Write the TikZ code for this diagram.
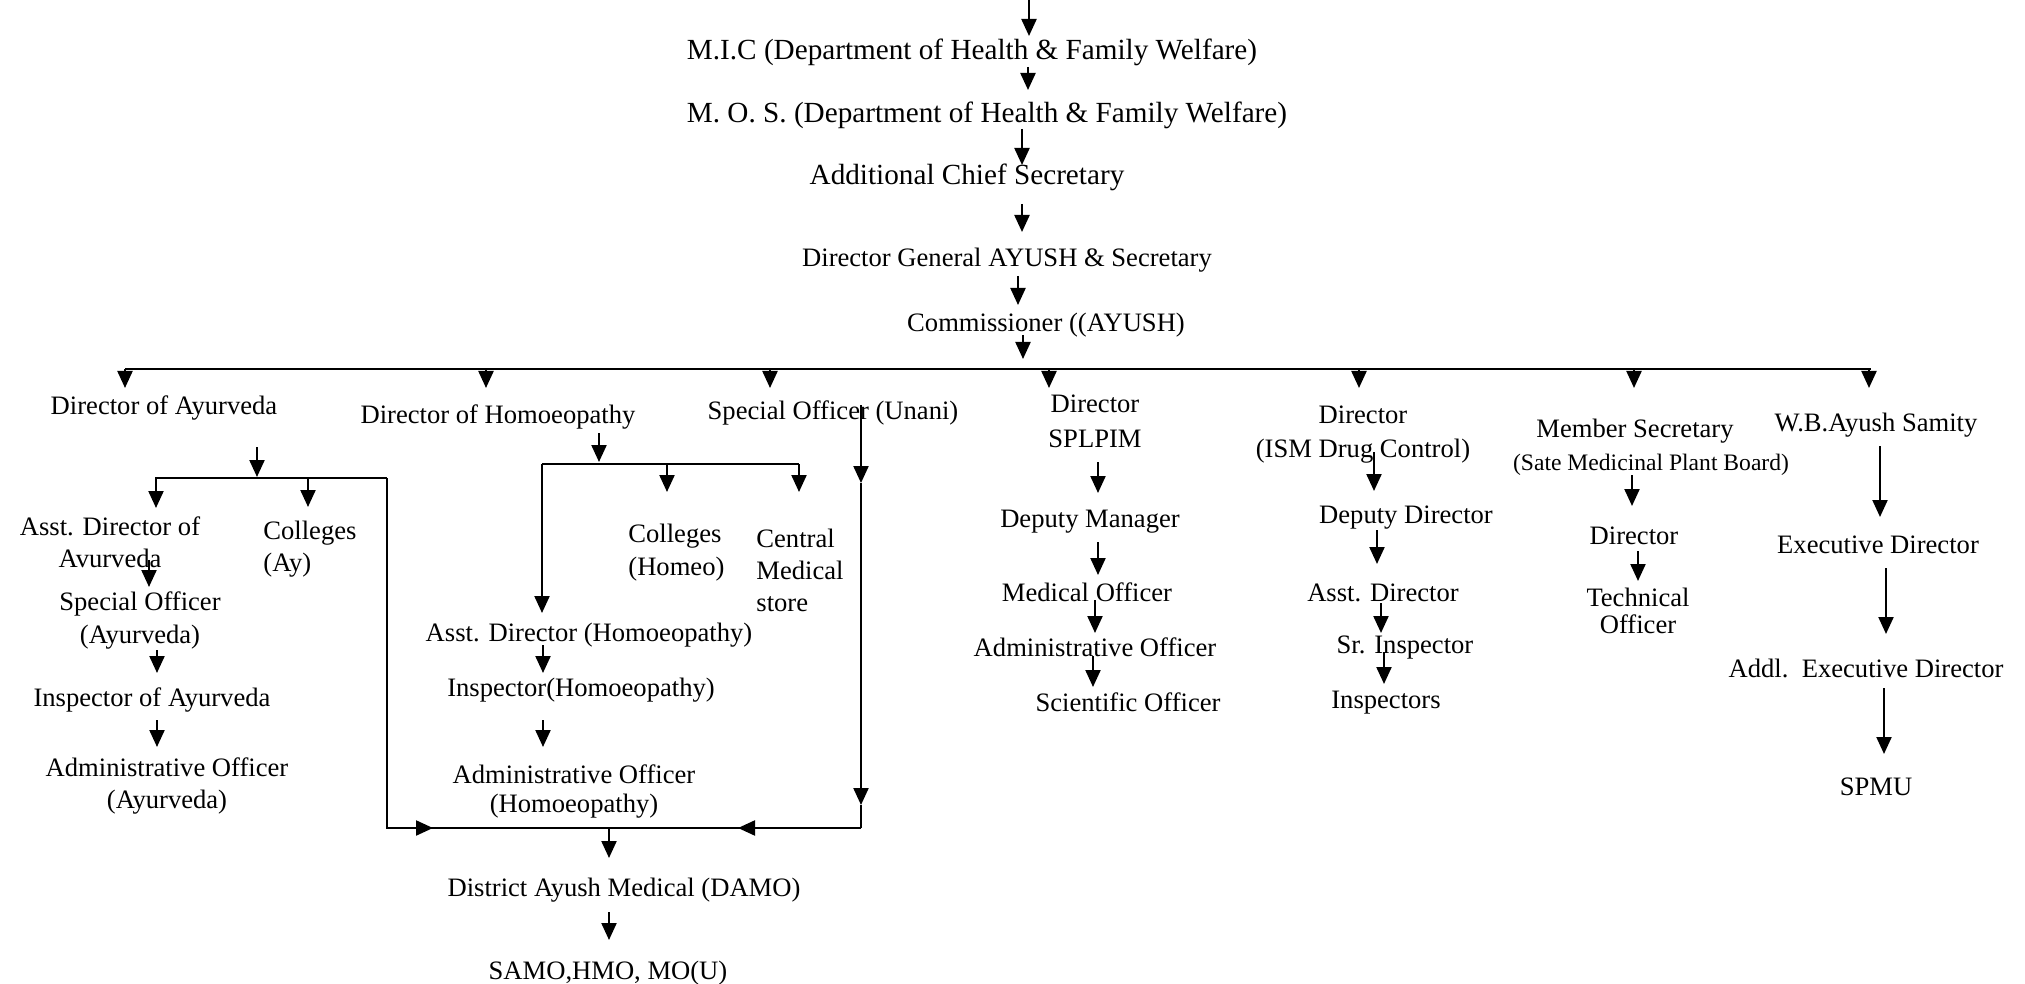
\documentclass[tikz,border=0pt]{standalone}
\usepackage{fontspec}
\setmainfont{Liberation Serif}
\usetikzlibrary{arrows.meta}
\newcommand\vconn[4]{\coordinate (#1s) at (#2,#3); \coordinate (#1e) at (#2,#4); \draw[arr] (#1s) -- (#1e);}
\begin{document}
\begin{tikzpicture}[x=0.5pt,y=-0.5pt,
  lbl/.style={inner sep=0pt, align=center, yshift=-1.8pt, font=\fontsize{13.3}{15.5}\selectfont},
  big/.style={lbl, font=\fontsize{14.6}{17}\selectfont},
  small/.style={lbl, font=\fontsize{11.8}{14}\selectfont},
  lft/.style={lbl, anchor=west, align=left},
  arr/.style={line width=1.1pt, -{Triangle[length=8.5pt,width=7.5pt]}},
  ln/.style={line width=1pt}]
\useasboundingbox (0,0) rectangle (2025,984);

% top chain
\node[big] (mic) at (972,49) {M.I.C (Department of Health \& Family Welfare)};
\node[big] (mos) at (987,112) {M. O. S. (Department of Health \& Family Welfare)};
\node[big] (acs) at (967,174) {Additional Chief Secretary};
\node[lbl] (dg) at (1007,257) {Director General AYUSH \& Secretary};
\node[lbl] (com) at (1046,322) {Commissioner ((AYUSH)};

% second row
\node[lbl] (ayu) at (164,404) {Director of Ayurveda};
\node[lbl] (hom) at (498,413) {Director of Homoeopathy};
\node[lbl] (una) at (833,409) {Special Officer (Unani)};
\node[lbl] (spl) at (1095,417.5) {Director\\[2pt]SPLPIM};
\node[lbl] (ism) at (1363,431) {Director\\[1.3pt](ISM Drug Control)};
\node[lbl] (msec) at (1635,427.5) {Member Secretary};
\node[small] (smpb) at (1651,461) {(Sate Medicinal Plant Board)};
\node[lbl] (wb) at (1876,422) {W.B.Ayush Samity};

% Ayurveda
\node[lbl] (aday) at (110,539) {Asst. Director of\\[0.5pt]Avurveda};
\node[lbl] (soay) at (140,616.5) {Special Officer\\[1pt](Ayurveda)};
\node[lbl] (inay) at (152,696) {Inspector of Ayurveda};
\node[lbl] (aoay) at (167,782) {Administrative Officer\\[0.5pt](Ayurveda)};
\node[lft] (coay) at (263,545.5) {Colleges\\[0.3pt](Ay)};

% Homoeopathy
\node[lft] (coho) at (628,549.5) {Colleges\\[1pt](Homeo)};
\node[lft] (cms) at (756,567) {Central\\[0.5pt]Medical\\[0.5pt]store};
\node[lbl] (adho) at (589,632) {Asst. Director (Homoeopathy)};
\node[lbl] (inho) at (581,687) {Inspector(Homoeopathy)};
\node[lbl] (aoho) at (574,788) {Administrative Officer\\[-1pt](Homoeopathy)};
\node[lbl] (damo) at (624,887) {District Ayush Medical (DAMO)};
\node[lbl] (samo) at (608,969) {SAMO,HMO, MO(U)};

% SPLPIM
\node[lbl] (dm) at (1090,518) {Deputy Manager};
\node[lbl] (mo) at (1087,589) {Medical Officer};
\node[lbl] (ao) at (1095,644) {Administrative Officer};
\node[lbl] (so) at (1128,699) {Scientific Officer};

% ISM
\node[lbl] (dd) at (1406,514) {Deputy Director};
\node[lbl] (ad) at (1383,589) {Asst. Director};
\node[lbl] (si) at (1405,644) {Sr. Inspector};
\node[lbl] (ins) at (1386,699) {Inspectors};

% Medicinal plant board
\node[lbl] (msd) at (1634,532) {Director};
\node[lbl] (to) at (1638,607.5) {Technical\\[-2pt]Officer};

% WB Ayush Samity
\node[lbl] (ed) at (1878,541) {Executive Director};
\node[lbl] (aed) at (1866,665) {Addl.\ \ Executive Director};
\node[lbl] (spmu) at (1876,783) {SPMU};

% ---- connectors ----
\vconn{top}{1029}{0}{36}
\vconn{micmos}{1028}{67}{90}
\vconn{mosacs}{1022}{129}{165}
\vconn{acsdg}{1022}{204}{232}
\vconn{dgcom}{1018}{276}{305}
\vconn{combus}{1023}{335}{359}

% main bus
\coordinate (busL) at (125,369);
\coordinate (busR) at (1871,369);
\draw[ln] (busL) -- (busR);
\vconn{dA}{125}{369}{388}
\vconn{dH}{486}{369}{388}
\vconn{dU}{770}{369}{388}
\vconn{dS}{1049}{369}{388}
\vconn{dI}{1359}{369}{388}
\vconn{dM}{1634}{369}{388}
\vconn{dW}{1869}{369}{388}

% Ayurveda branch
\vconn{ayb}{257}{447}{477}
\coordinate (aybL) at (155,478);
\coordinate (aybR) at (387,478);
\draw[ln] (aybL) -- (aybR);
\vconn{ayd1}{156}{478}{508}
\vconn{ayd2}{308}{478}{507}
\coordinate (botL) at (387,828);
\coordinate (botR) at (861,828);
\draw[ln] (aybR) -- (botL) -- (botR);
\coordinate (botLa) at (433,828);
\draw[arr] (botL) -- (botLa);
\vconn{ay1}{149}{560}{587}
\vconn{ay2}{157}{650}{673}
\vconn{ay3}{157}{720}{747}

% Unani line
\coordinate (unT) at (861,405);
\coordinate (unM1) at (861,483);
\coordinate (unM2) at (861,805);
\coordinate (botRa) at (738,828);
\draw[arr] (unT) -- (unM1);
\draw[arr] (unM1) -- (unM2);
\draw[ln] (unM2) -- (botR);
\draw[arr] (botR) -- (botRa);

% Homoeopathy branch
\vconn{hob}{599}{433}{462}
\coordinate (hobL) at (542,464);
\coordinate (hobR) at (799,464);
\draw[ln] (hobL) -- (hobR);
\vconn{hod1}{667}{464}{492}
\vconn{hod2}{799}{464}{492}
\coordinate (hoAd) at (542,613);
\draw[arr] (hobL) -- (hoAd);
\vconn{ho1}{543}{645}{673}
\vconn{ho2}{543}{720}{747}

% DAMO
\vconn{da1}{609}{828}{858}
\vconn{da2}{609}{912}{940}

% SPLPIM
\vconn{sp1}{1098}{462}{493}
\vconn{sp2}{1098}{542}{575}
\vconn{sp3}{1095}{600}{633}
\vconn{sp4}{1093}{656}{687}

% ISM
\vconn{is1}{1374}{452}{491}
\vconn{is2}{1377}{530}{564}
\vconn{is3}{1381}{603}{633}
\vconn{is4}{1384}{652}{684}

% Plant board
\vconn{mp1}{1632}{475}{506}
\vconn{mp2}{1638}{551}{581}

% WB
\vconn{wb1}{1880}{446}{517}
\vconn{wb2}{1886}{568}{634}
\vconn{wb3}{1884}{688}{754}
\end{tikzpicture}
\end{document}
